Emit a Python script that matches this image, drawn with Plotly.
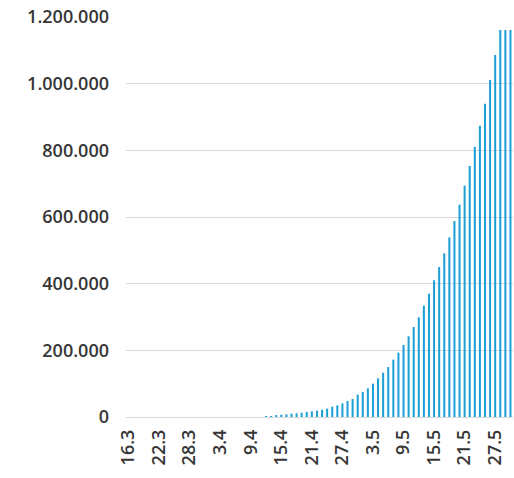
import datetime as dt
import plotly.graph_objects as go

# Daily dates, 16 March to 30 May
start = dt.date(2020, 3, 16)
dates = [start + dt.timedelta(days=i) for i in range(76)]
date_labels = [f"{d.day}.{d.month}" for d in dates]

# Daily cumulative values
values = [
    0, 0, 0, 0, 0, 0, 0, 0, 0, 0, 0, 0, 0, 0, 0, 0,
    0, 0, 0, 0, 0, 0, 0, 0, 0, 0,
    0, 1000, 3000, 5000, 7000, 8000, 10000, 11000, 13000, 15000,
    17000, 19000, 22000, 25000, 31000, 35000, 41000, 48000, 54000, 67000,
    75000, 86000, 100000, 116000, 133000, 150000, 172000, 193000, 216000, 242000,
    270000, 299000, 334000, 370000, 410000, 450000, 491000, 539000, 588000, 637000,
    694000, 753000, 811000, 874000, 940000, 1011000, 1086000, 1161000, 1161000, 1161000,
]

shown_ticks = date_labels[::6]
y_ticks = [0, 200000, 400000, 600000, 800000, 1000000, 1200000]

fig = go.Figure(
    go.Bar(
        x=date_labels,
        y=values,
        marker=dict(color="#1ca0d6", line=dict(width=0)),
    )
)

font = dict(family="Open Sans", size=18, color="#363636", weight=600)

fig.update_layout(
    width=514,
    height=478,
    margin=dict(l=126, r=1, t=17, b=61),
    paper_bgcolor="white",
    plot_bgcolor="white",
    bargap=0.6,
    separators=",.",
    showlegend=False,
    font=font,
)

fig.update_xaxes(
    type="category",
    tickmode="array",
    tickvals=shown_ticks,
    ticktext=shown_ticks,
    tickangle=-90,
    showgrid=False,
    showline=False,
    ticks="",
    ticklabelstandoff=8,
    tickfont=font,
)

fig.update_yaxes(
    range=[0, 1200000],
    tickmode="array",
    tickvals=y_ticks,
    tickformat=",d",
    showgrid=True,
    gridcolor="#d9d9d9",
    gridwidth=1,
    zeroline=True,
    zerolinecolor="#d9d9d9",
    zerolinewidth=1,
    showline=False,
    ticks="",
    ticklabelstandoff=16,
    tickfont=font,
)

fig.write_html("out.html")
